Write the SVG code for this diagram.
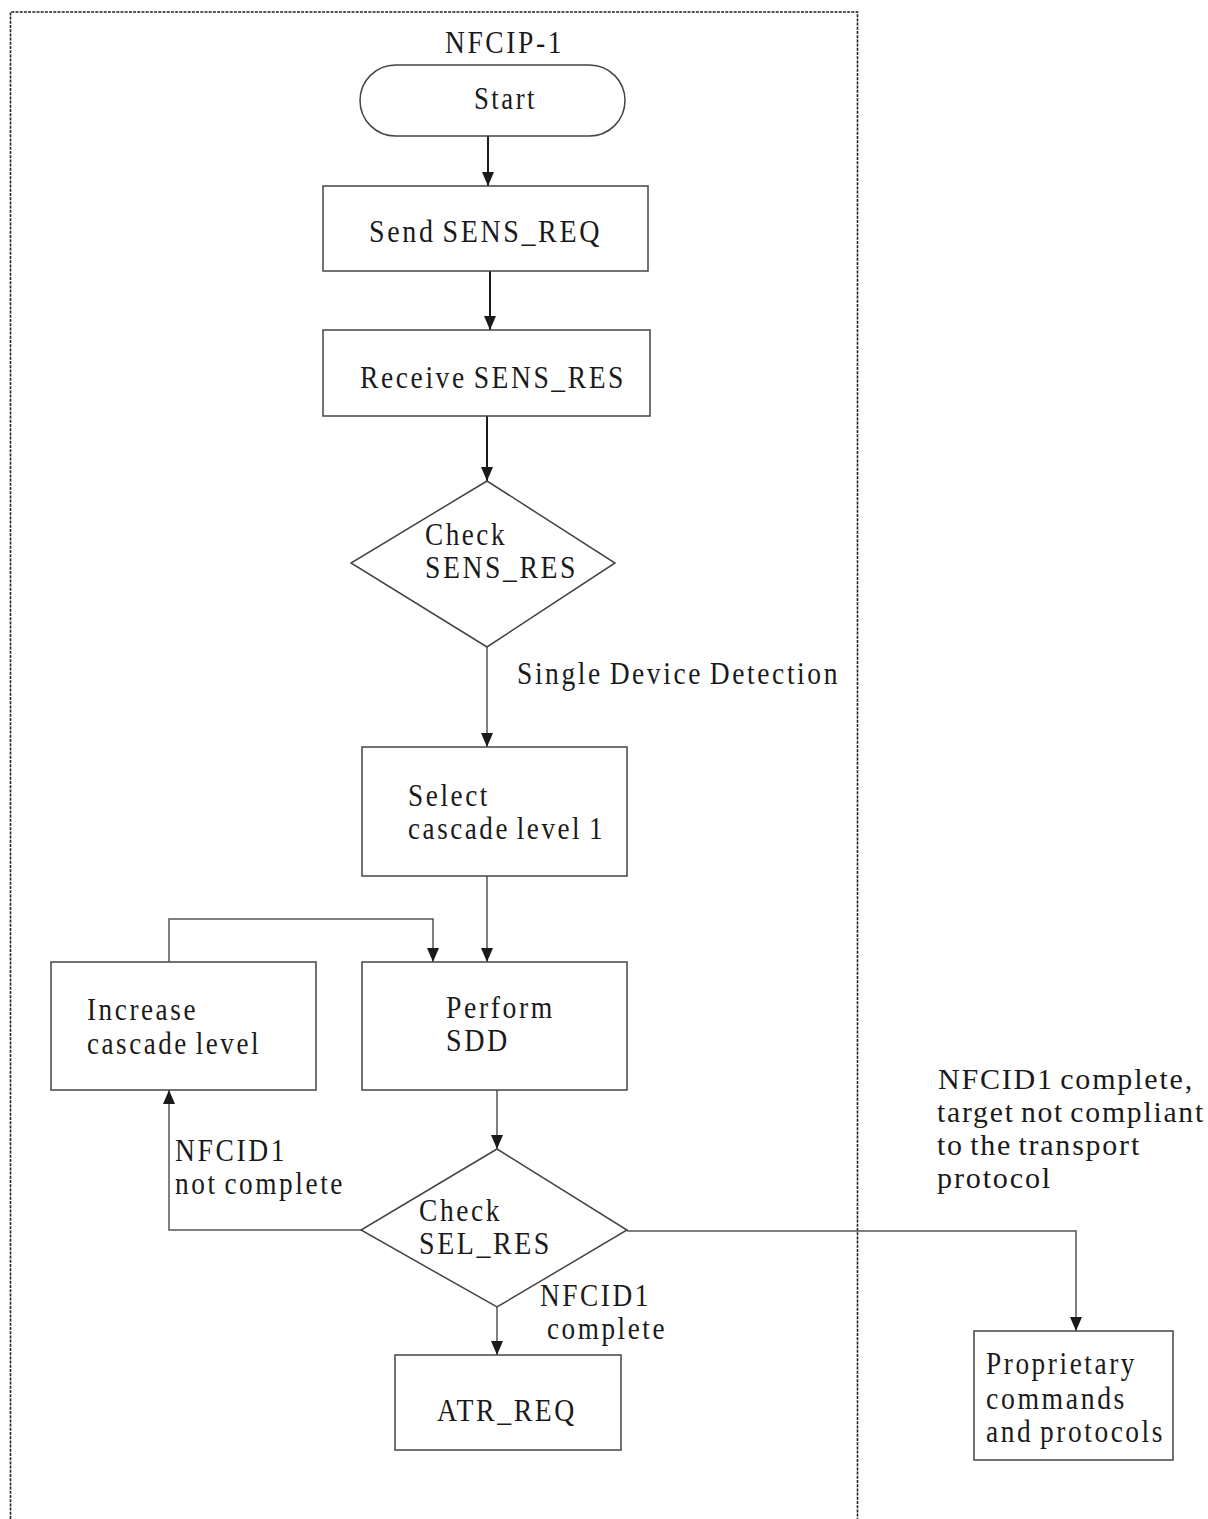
<svg xmlns="http://www.w3.org/2000/svg" width="1208" height="1519" viewBox="0 0 1208 1519">
<defs>
<marker id="ah" markerWidth="14" markerHeight="12" refX="14" refY="6" orient="auto" markerUnits="userSpaceOnUse" viewBox="0 0 14 12">
<path d="M0,0 L14,6 L0,12 Z" fill="#1a1a1a"/>
</marker>
</defs>
<style>
text{font-family:"Liberation Serif","Times New Roman",serif;font-size:32px;fill:#1a1a1a;letter-spacing:3px;word-spacing:-3px}
text.r{font-size:30px;letter-spacing:1.8px}
.box{fill:#fff;stroke:#444;stroke-width:1.5}
.c{fill:none;stroke:#555;stroke-width:1.5}
.thick{stroke:#1a1a1a;stroke-width:2}
.frame{fill:none;stroke:#222;stroke-width:1.6;stroke-dasharray:3 1.2}
</style>
<rect width="1208" height="1519" fill="#fff"/>
<path class="frame" d="M10.5,1519 L10.5,12 L857.5,12 L857.5,1519"/>
<text x="445" y="53" textLength="119" lengthAdjust="spacingAndGlyphs">NFCIP-1</text>
<g id="connectors">
<line class="c thick" x1="488" y1="136" x2="488" y2="186" marker-end="url(#ah)"/>
<line class="c thick" x1="490" y1="271" x2="490" y2="330" marker-end="url(#ah)"/>
<line class="c thick" x1="487" y1="416" x2="487" y2="481" marker-end="url(#ah)"/>
<line class="c" x1="487" y1="647" x2="487" y2="747" marker-end="url(#ah)"/>
<line class="c" x1="487" y1="876" x2="487" y2="962" marker-end="url(#ah)"/>
<polyline class="c" points="169,962 169,919 433,919 433,962" marker-end="url(#ah)"/>
<line class="c" x1="497" y1="1090" x2="497" y2="1149" marker-end="url(#ah)"/>
<polyline class="c" points="361,1230 169,1230 169,1090" marker-end="url(#ah)"/>
<polyline class="c" points="627,1231 1076,1231 1076,1331" marker-end="url(#ah)"/>
<line class="c" x1="497" y1="1307" x2="497" y2="1355" marker-end="url(#ah)"/>
<text x="517" y="684" textLength="323" lengthAdjust="spacingAndGlyphs">Single Device Detection</text>
<text x="175" y="1161" textLength="112" lengthAdjust="spacingAndGlyphs">NFCID1</text>
<text x="175" y="1194" textLength="170" lengthAdjust="spacingAndGlyphs">not complete</text>
<text x="540" y="1306" textLength="111" lengthAdjust="spacingAndGlyphs">NFCID1</text>
<text x="547" y="1339" textLength="120" lengthAdjust="spacingAndGlyphs">complete</text>
<text class="r" x="938" y="1089" textLength="256" lengthAdjust="spacingAndGlyphs">NFCID1 complete,</text>
<text class="r" x="937" y="1122" textLength="268" lengthAdjust="spacingAndGlyphs">target not compliant</text>
<text class="r" x="937" y="1155" textLength="204" lengthAdjust="spacingAndGlyphs">to the transport</text>
<text class="r" x="937" y="1188" textLength="115" lengthAdjust="spacingAndGlyphs">protocol</text>
</g>
<g id="start">
<rect class="box" x="360" y="65" width="265" height="71" rx="35.5" ry="35.5"/>
<text x="474" y="109" textLength="63" lengthAdjust="spacingAndGlyphs">Start</text>
</g>
<g id="send">
<rect class="box" x="323" y="186" width="325" height="85"/>
<text x="369" y="242" textLength="233" lengthAdjust="spacingAndGlyphs">Send SENS_REQ</text>
</g>
<g id="receive">
<rect class="box" x="323" y="330" width="327" height="86"/>
<text x="360" y="388" textLength="266" lengthAdjust="spacingAndGlyphs">Receive SENS_RES</text>
</g>
<g id="check-sens">
<polygon class="box" points="487,481 615,563 487,647 351,563"/>
<text x="425" y="545" textLength="82" lengthAdjust="spacingAndGlyphs">Check</text>
<text x="425" y="578" textLength="153" lengthAdjust="spacingAndGlyphs">SENS_RES</text>
</g>
<g id="select">
<rect class="box" x="362" y="747" width="265" height="129"/>
<text x="408" y="806" textLength="82" lengthAdjust="spacingAndGlyphs">Select</text>
<text x="408" y="839" textLength="197" lengthAdjust="spacingAndGlyphs">cascade level 1</text>
</g>
<g id="increase">
<rect class="box" x="51" y="962" width="265" height="128"/>
<text x="87" y="1020" textLength="111" lengthAdjust="spacingAndGlyphs">Increase</text>
<text x="87" y="1054" textLength="174" lengthAdjust="spacingAndGlyphs">cascade level</text>
</g>
<g id="perform">
<rect class="box" x="362" y="962" width="265" height="128"/>
<text x="446" y="1018" textLength="109" lengthAdjust="spacingAndGlyphs">Perform</text>
<text x="446" y="1051" textLength="64" lengthAdjust="spacingAndGlyphs">SDD</text>
</g>
<g id="check-sel">
<polygon class="box" points="497,1149 627,1230 497,1307 361,1230"/>
<text x="419" y="1221" textLength="83" lengthAdjust="spacingAndGlyphs">Check</text>
<text x="419" y="1254" textLength="133" lengthAdjust="spacingAndGlyphs">SEL_RES</text>
</g>
<g id="atr">
<rect class="box" x="395" y="1355" width="226" height="95"/>
<text x="437" y="1421" textLength="140" lengthAdjust="spacingAndGlyphs">ATR_REQ</text>
</g>
<g id="proprietary">
<rect class="box" x="974" y="1331" width="199" height="129"/>
<text x="986" y="1374" textLength="151" lengthAdjust="spacingAndGlyphs">Proprietary</text>
<text x="986" y="1409" textLength="141" lengthAdjust="spacingAndGlyphs">commands</text>
<text x="986" y="1442" textLength="179" lengthAdjust="spacingAndGlyphs">and protocols</text>
</g>
</svg>
